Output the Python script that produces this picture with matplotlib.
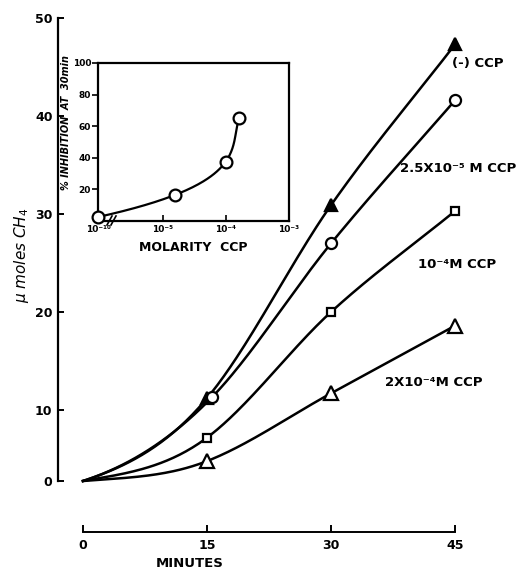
import numpy as np
import matplotlib
matplotlib.use("Agg")
import matplotlib.pyplot as plt
from matplotlib.ticker import FixedLocator, NullLocator

plt.rcParams['font.family'] = ['DejaVu Sans']

# ---------------- data ----------------
minutes_ticks = [0, 15, 30, 45]
y_ticks = [0, 10, 20, 30, 40, 50]

ctrl_x = [15, 30, 45]
ctrl_y = [11.2, 30.9, 47.3]          # (-) CCP, filled triangles
c25_x = [15.6, 30, 45]
c25_y = [11.3, 27.0, 41.6]           # 2.5x10^-5 M CCP, circles
c1_x = [15, 30, 45]
c1_y = [6.1, 20.0, 30.3]             # 10^-4 M CCP, squares
c2_x = [15, 30, 45]
c2_y = [2.8, 11.7, 18.6]             # 2x10^-4 M CCP, open triangles

series_labels = ["(-) CCP", "2.5X10⁻⁵ M CCP", "10⁻⁴M CCP", "2X10⁻⁴M CCP"]

inset_molarity = [9.5e-7, 1.6e-5, 1.0e-4, 1.6e-4]
inset_inhib = [2.5, 16.6, 37.6, 65.0]
inset_yticks = [20, 40, 60, 80, 100]
inset_xticks = [9.55e-7, 1e-5, 1e-4, 1e-3]
inset_xticklabels = ["10⁻¹⁰", "10⁻⁵", "10⁻⁴", "10⁻³"]

# -------------- figure ---------------
W, H = 529, 576
fig = plt.figure(figsize=(W / 100, H / 100), dpi=100)
ax = fig.add_axes([83 / W, (H - 481) / H, 372 / W, 463 / H])


def fwd(y):
    y = np.asarray(y, dtype=float)
    return np.where(y <= 10, 7.1 * y, 71 + 9.8 * (y - 10))


def inv(p):
    p = np.asarray(p, dtype=float)
    return np.where(p <= 71, p / 7.1, 10 + (p - 71) / 9.8)


ax.set_yscale('function', functions=(fwd, inv))
ax.set_xlim(0, 45)
ax.set_ylim(0, 50)


def smooth(xs, ys):
    """Smooth cubic Hermite curve through the origin and the points (scaled space)."""
    x = np.array([0] + list(xs), dtype=float)
    s = fwd([0] + list(ys))
    sec = np.diff(s) / np.diff(x)
    m = np.array([0.5 * sec[0],
                  0.6 * sec[1] + 0.4 * sec[0],
                  0.5 * (sec[1] + sec[2]),
                  sec[2]])
    xx_all, ss_all = [], []
    for i in range(len(s) - 1):
        h = x[i + 1] - x[i]
        t = np.linspace(0, 1, 60)
        h00 = 2 * t**3 - 3 * t**2 + 1
        h10 = t**3 - 2 * t**2 + t
        h01 = -2 * t**3 + 3 * t**2
        h11 = t**3 - t**2
        ss = h00 * s[i] + h10 * h * m[i] + h01 * s[i + 1] + h11 * h * m[i + 1]
        xx_all.append(x[i] + t * h)
        ss_all.append(ss)
    return np.concatenate(xx_all), inv(np.clip(np.concatenate(ss_all), 0, None))


lw = 1.8
for xs, ys, mk, fc, ms in [(ctrl_x, ctrl_y, '^', 'black', 9),
                           (c25_x, c25_y, 'o', 'white', 8),
                           (c1_x, c1_y, 's', 'white', 6),
                           (c2_x, c2_y, '^', 'white', 10)]:
    xx, yy = smooth(xs, ys)
    ax.plot(xx, yy, color='black', lw=lw, clip_on=False, zorder=2)
    ax.plot(xs, ys, ls='none', marker=mk, ms=ms, mfc=fc, mec='black',
            mew=1.6, clip_on=False, zorder=3)

# spines
for s in ['top', 'right']:
    ax.spines[s].set_visible(False)
ax.spines['left'].set_position(('outward', 25 * 0.72))
ax.spines['bottom'].set_position(('outward', 51 * 0.72))
ax.spines['left'].set_linewidth(1.6)
ax.spines['bottom'].set_linewidth(1.4)
ax.spines['left'].set_bounds(0, 50)
ax.spines['bottom'].set_bounds(0, 45)

ax.xaxis.set_major_locator(FixedLocator(minutes_ticks))
ax.yaxis.set_major_locator(FixedLocator(y_ticks))
ax.yaxis.set_minor_locator(NullLocator())
ax.set_xticklabels([str(v) for v in minutes_ticks], fontsize=9, fontweight='bold')
ax.set_yticklabels([str(v) for v in y_ticks], fontsize=9, fontweight='bold')
ax.tick_params(axis='x', direction='in', length=5, width=1.4, pad=5)
ax.tick_params(axis='y', direction='in', length=4, width=1.4, pad=4)

ax.set_xlabel("MINUTES", fontsize=9.5, fontweight='bold')
ax.xaxis.set_label_coords((190 - 83) / 372, -(557 - 481) / 463)
ax.set_ylabel(r"$\mu$ moles CH$_4$", fontsize=11, style='italic')
ax.yaxis.set_label_coords(-(83 - 31) / 372, (481 - 255) / 463)


# series labels
def fig_text(x, y, s, **kw):
    fig.text(x / W, 1 - y / H, s, ha='left', va='center', fontsize=9.5,
             fontweight='bold', **kw)


fig_text(452, 64, series_labels[0])
fig_text(400, 168, series_labels[1])
fig_text(418, 265, series_labels[2])
fig_text(385, 382, series_labels[3])

# -------------- inset ---------------
ax2 = fig.add_axes([98 / W, (H - 221) / H, 191 / W, 158 / H])
ax2.set_xscale('log')
ax2.set_xlim(9.55e-7, 1e-3)
ax2.set_ylim(0, 100)
for s in ax2.spines.values():
    s.set_linewidth(1.6)

lx = np.log10(inset_molarity)
c = np.polyfit(inset_inhib, lx, 3)
yy = np.linspace(inset_inhib[0], inset_inhib[-1], 200)
ax2.plot(10 ** np.polyval(c, yy), yy, color='black', lw=1.6, clip_on=False, zorder=2)
ax2.plot(inset_molarity, inset_inhib, ls='none', marker='o', ms=8.5, mfc='white',
         mec='black', mew=1.6, clip_on=False, zorder=3)

# axis break marks
for dx in (0, 4):
    ax2.plot([107 + dx, 112 + dx], [H - 225, H - 216], transform=None,
             color='black', lw=1.2, clip_on=False)

ax2.xaxis.set_major_locator(FixedLocator(inset_xticks))
ax2.xaxis.set_minor_locator(NullLocator())
ax2.set_xticklabels(inset_xticklabels, fontsize=6.5, fontweight='bold')
ax2.yaxis.set_major_locator(FixedLocator(inset_yticks))
ax2.set_yticklabels([str(v) for v in inset_yticks], fontsize=6.5, fontweight='bold')
ax2.tick_params(axis='x', direction='in', length=4, width=1.2, pad=3)
ax2.tick_params(axis='y', direction='out', length=4, width=1.2, pad=1)
ax2.set_xlabel("MOLARITY  CCP", fontsize=9, fontweight='bold', labelpad=5)
ax2.set_ylabel("% INHIBITION  AT  30min", fontsize=7, fontweight='bold',
               style='italic')
ax2.yaxis.set_label_coords(-(98 - 71) / 191, (221 - 122) / 158)

fig.savefig("out.png", dpi=100)
